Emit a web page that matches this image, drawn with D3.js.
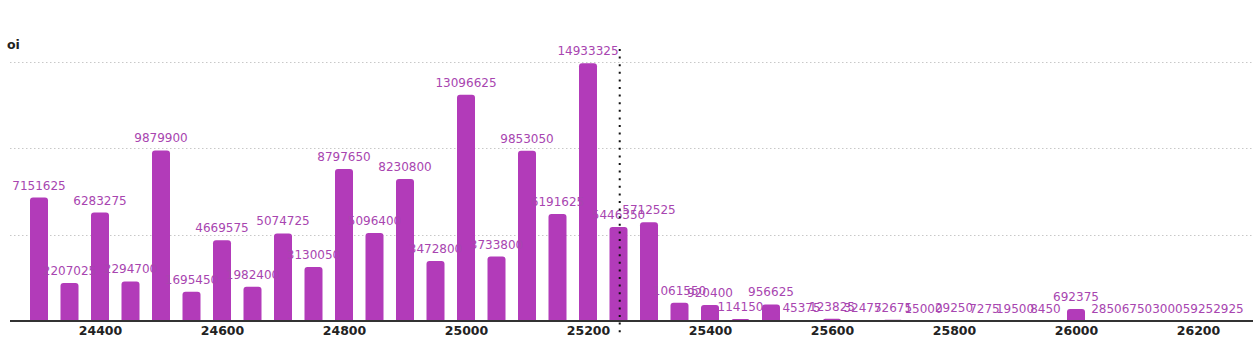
<!DOCTYPE html>
<html>
<head>
<meta charset="utf-8">
<script src="https://cdn.jsdelivr.net/npm/d3@7"></script>
<style>
  html, body { margin: 0; padding: 0; background: #fff; }
  svg { display: block; }
</style>
</head>
<body>
<svg id="chart" width="1253" height="345"></svg>
<script>
const strikes = [24300, 24350, 24400, 24450, 24500, 24550, 24600, 24650, 24700, 24750,
                 24800, 24850, 24900, 24950, 25000, 25050, 25100, 25150, 25200, 25250,
                 25300, 25350, 25400, 25450, 25500, 25550, 25600, 25650, 25700, 25750,
                 25800, 25850, 25900, 25950, 26000, 26050, 26100, 26150, 26200, 26250];
const oi = [7151625, 2207025, 6283275, 2294700, 9879900, 1695450, 4669575, 1982400, 5074725, 3130050,
            8797650, 5096400, 8230800, 3472800, 13096625, 3733800, 9853050, 6191625, 14933325, 5446350,
            5712525, 1061550, 920400, 114150, 956625, 45375, 123825, 32475, 72675, 15000,
            29250, 7275, 19500, 8450, 692375, 2850, 6750, 3000, 5925, 2925];
const xTicks = [24400, 24600, 24800, 25000, 25200, 25400, 25600, 25800, 26000, 26200];
const yTicks = [5000000, 10000000, 15000000];
const spot = 25252;
const yLabel = "oi";

const svg = d3.select("#chart");
const x = d3.scaleLinear().domain([24250, 26290]).range([8.5, 1252.9]);
const y = d3.scaleLinear().domain([0, 15000000]).range([321, 62]);
const barW = 18;
const purple = "#b23bb9";
const labelColor = "#a845b0";
const font = "'DejaVu Sans', sans-serif";

// gridlines
svg.append("g").selectAll("line").data(yTicks).join("line")
  .attr("x1", 10).attr("x2", 1253)
  .attr("y1", d => Math.round(y(d)) + 0.5).attr("y2", d => Math.round(y(d)) + 0.5)
  .attr("stroke", "#c8c8c8").attr("stroke-width", 1).attr("stroke-dasharray", "1.5,2.5");

// bars with rounded top corners
function barPath(cx, top, bottom, w, r) {
  const h = bottom - top;
  const rr = Math.min(r, h, w / 2);
  const l = cx - w / 2, rgt = cx + w / 2;
  if (h <= 0) return "";
  return `M${l},${bottom}L${l},${top + rr}Q${l},${top} ${l + rr},${top}L${rgt - rr},${top}Q${rgt},${top} ${rgt},${top + rr}L${rgt},${bottom}Z`;
}
const data = strikes.map((s, i) => ({ s, v: oi[i] }));
svg.append("g").selectAll("path").data(data).join("path")
  .attr("d", d => barPath(x(d.s), y(d.v), y(0), barW, 3))
  .attr("fill", purple);

// value labels
svg.append("g").selectAll("text").data(data).join("text")
  .attr("x", d => x(d.s)).attr("y", d => y(d.v) - 8)
  .attr("text-anchor", "middle")
  .attr("font-family", font).attr("font-size", "12px")
  .attr("fill", labelColor)
  .text(d => d.v);

// x axis
const xAxis = d3.axisBottom(x).tickValues(xTicks).tickSize(0).tickPadding(5).tickFormat(d3.format("d"));
const gx = svg.append("g").attr("transform", "translate(0,321)").call(xAxis);
gx.select(".domain").remove();
gx.selectAll("text").attr("font-family", font).attr("font-size", "12.5px")
  .attr("font-weight", "bold").attr("fill", "#222");
svg.append("line").attr("x1", 10).attr("x2", 1253).attr("y1", 321).attr("y2", 321)
  .attr("stroke", "#333").attr("stroke-width", 2);

// spot line
svg.append("line").attr("x1", x(spot)).attr("x2", x(spot)).attr("y1", 49).attr("y2", 333)
  .attr("stroke", "#111").attr("stroke-width", 2).attr("stroke-dasharray", "2,5.6");

// y label
svg.append("text").attr("x", 7).attr("y", 49).attr("font-family", font)
  .attr("font-size", "12.5px").attr("font-weight", "bold").attr("fill", "#222").text(yLabel);
</script>
</body>
</html>
